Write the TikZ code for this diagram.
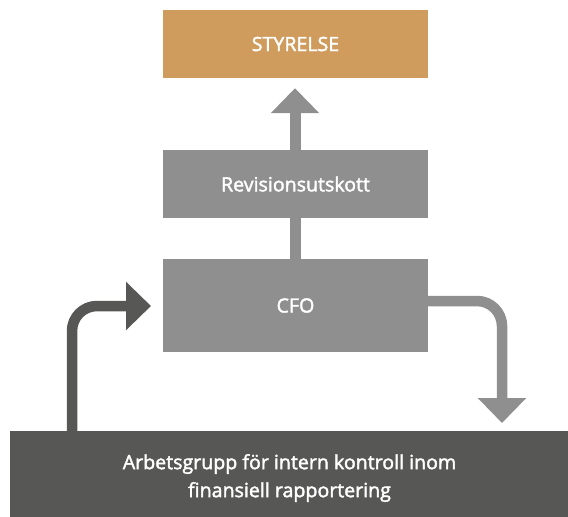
\documentclass[tikz,border=0pt]{standalone}
\usepackage{fontspec}
\setmainfont{Open Sans}
\newfontfamily\semib{Open Sans}[FakeBold=2]
\usetikzlibrary{arrows.meta}
\definecolor{gold}{HTML}{CF9C5E}
\definecolor{midgray}{HTML}{8F8F8F}
\definecolor{darkgray}{HTML}{575755}
\begin{document}
\begin{tikzpicture}[x=1pt,y=-1pt,
  box/.style={draw=none,inner sep=0pt,minimum width=265pt,text=white,font=\semib\fontsize{19.6}{23}\selectfont},
  flow/.style={line width=11pt,draw=midgray},
  bigtip/.style={-{Triangle[width=47pt,length=25pt]}}]
\useasboundingbox (0,0) rectangle (568,517);
\node[box,fill=gold,minimum height=68pt] (sty) at (295.5,44) {STYRELSE};
\node[box,fill=midgray,minimum height=68pt] (rev) at (295.5,184) {Revisionsutskott};
\node[box,fill=midgray,minimum height=93pt] (cfo) at (295.5,305.5) {CFO};
\node[fill=darkgray,draw=none,inner sep=0pt,minimum width=558pt,minimum height=86pt] (wg) at (289,474) {};
\node[text=white,align=center,inner sep=0pt,font=\semib\fontsize{19.6}{28}\selectfont] (wgt) at (289.5,478) {Arbetsgrupp för intern kontroll inom\\finansiell rapportering};
% connectors
\draw[flow] (cfo.north -| 295,0) -- (rev.south -| 295,0);
\draw[flow,bigtip,shorten >=10pt] (rev.north -| 295,0) -- (sty.south -| 295,0);
\coordinate (lstart) at (72,431);
\coordinate (lend) at (151,306);
\draw[line width=10.5pt,draw=darkgray,bigtip,rounded corners=25pt] (lstart) |- (lend);
\coordinate (rstart) at (428,301);
\coordinate (rend) at (502,423);
\draw[line width=10.5pt,draw=midgray,bigtip,rounded corners=25pt] (rstart) -| (rend);
\end{tikzpicture}
\end{document}
